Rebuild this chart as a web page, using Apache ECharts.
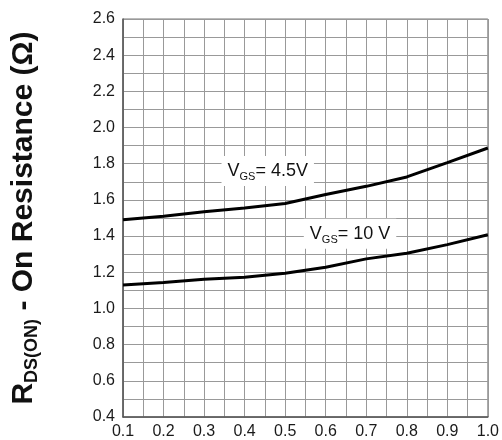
<!DOCTYPE html>
<html>
<head>
<meta charset="utf-8">
<script src="https://cdn.jsdelivr.net/npm/echarts@6/dist/echarts.min.js"></script>
<style>
html,body{margin:0;padding:0;background:#fff;}
#c{width:502px;height:440px;}
</style>
</head>
<body>
<div id="c"></div>
<script>
var xValues = [0.1, 0.2, 0.3, 0.4, 0.5, 0.6, 0.7, 0.8, 0.9, 1.0];
var vgs45 = [1.49, 1.51, 1.535, 1.555, 1.58, 1.63, 1.675, 1.727, 1.806, 1.887];
var vgs10 = [1.13, 1.143, 1.161, 1.172, 1.195, 1.228, 1.274, 1.305, 1.353, 1.407];
var label45 = {text: '= 4.5V', coord: [0.457, 1.76]};
var label10 = {text: '= 10 V', coord: [0.66, 1.413]};
var yTitle = ['R', 'DS(ON)', ' - On Resistance (Ω)'];

function pairs(ys){ return xValues.map(function(x,i){ return [x, ys[i]]; }); }
var FONT = 'Liberation Sans, Arial, sans-serif';
var gridColor = '#999';

function mk(lbl){
  return {
    symbol: 'circle', symbolSize: 1,
    itemStyle: {color: 'rgba(0,0,0,0)'},
    label: {
      show: true, position: 'inside',
      formatter: '{v|V}{s|GS}{v|' + lbl.text + '}',
      backgroundColor: '#fff', padding: [3, 6, 3, 6],
      rich: {
        v: {fontSize: 18, color: '#111', fontFamily: FONT},
        s: {fontSize: 11, color: '#111', fontFamily: FONT, padding: [13, 0, 0, 0]}
      }
    },
    data: [{coord: lbl.coord}]
  };
}

var chart = echarts.init(document.getElementById('c'), null, {renderer: 'canvas'});
chart.setOption({
  backgroundColor: '#fff',
  animation: false,
  grid: {left: 123, right: 14, top: 19, bottom: 23, containLabel: false,
         show: true, borderColor: '#777', borderWidth: 1},
  xAxis: {
    type: 'value', min: 0.1, max: 1.0, interval: 0.1,
    axisLine: {show: true, onZero: false, lineStyle: {color: '#555', width: 1.5}},
    axisTick: {show: false},
    minorTick: {show: false, splitNumber: 2},
    splitLine: {show: true, lineStyle: {color: gridColor, width: 1}},
    minorSplitLine: {show: true, lineStyle: {color: gridColor, width: 1}},
    axisLabel: {color: '#1a1a1a', fontSize: 16, fontFamily: FONT, margin: 7,
      formatter: function(v){ return v.toFixed(1); }}
  },
  yAxis: {
    type: 'value', min: 0.4, max: 2.6, interval: 0.2,
    axisLine: {show: true, onZero: false, lineStyle: {color: '#555', width: 1.5}},
    axisTick: {show: false},
    minorTick: {show: false, splitNumber: 2},
    splitLine: {show: true, lineStyle: {color: gridColor, width: 1}},
    minorSplitLine: {show: true, lineStyle: {color: gridColor, width: 1}},
    axisLabel: {color: '#1a1a1a', fontSize: 16, fontFamily: FONT, margin: 8,
      formatter: function(v){ return v.toFixed(1); }},
    name: '{b|' + yTitle[0] + '}{s|' + yTitle[1] + '}{b|' + yTitle[2] + '}',
    nameLocation: 'middle', nameRotate: 90, nameGap: 82,
    nameTextStyle: {
      rich: {
        b: {fontSize: 30, fontWeight: 'bold', color: '#111', fontFamily: FONT},
        s: {fontSize: 18, fontWeight: 'bold', color: '#111', fontFamily: FONT, padding: [16, 0, 0, 0]}
      }
    }
  },
  series: [
    {type: 'line', data: pairs(vgs45), showSymbol: false, symbol: 'none',
     lineStyle: {color: '#000', width: 3}, markPoint: mk(label45), z: 3},
    {type: 'line', data: pairs(vgs10), showSymbol: false, symbol: 'none',
     lineStyle: {color: '#000', width: 3}, markPoint: mk(label10), z: 3}
  ]
});
</script>
</body>
</html>
